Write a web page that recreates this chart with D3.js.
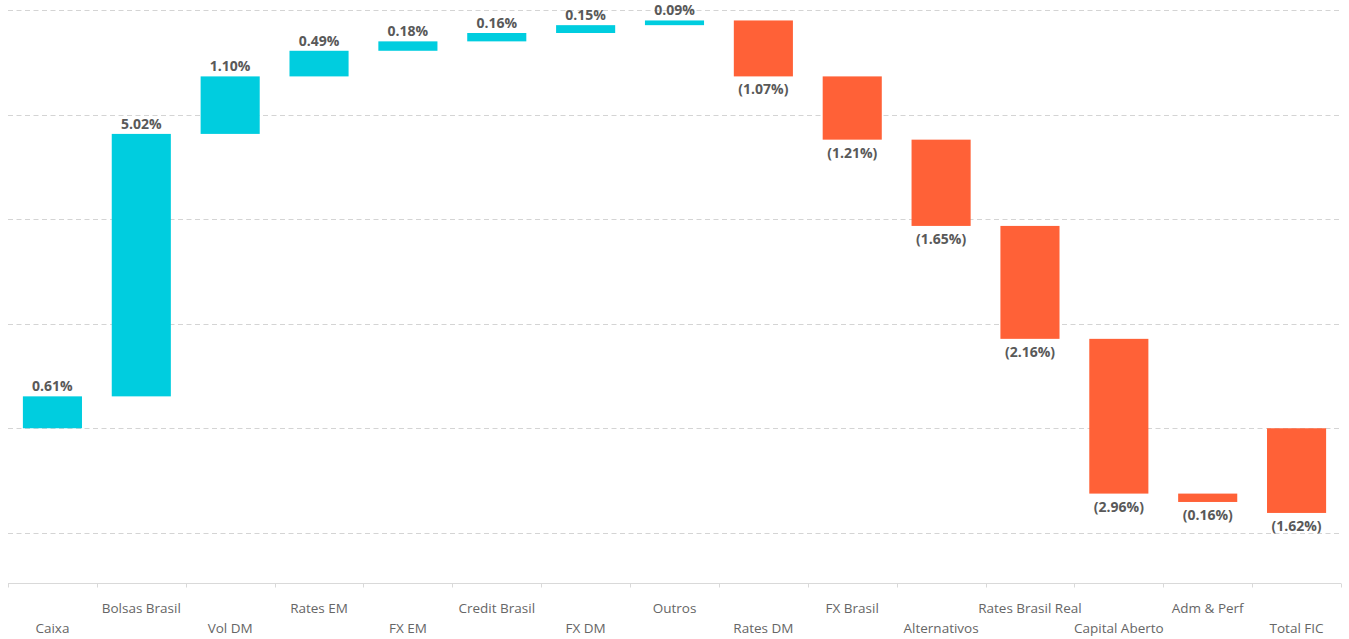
<!DOCTYPE html>
<html>
<head>
<meta charset="utf-8">
<script src="https://cdn.jsdelivr.net/npm/d3@7"></script>
<style>
  body { margin: 0; background: #fff; }
  text { font-family: "Open Sans", "Noto Sans", sans-serif; }
</style>
</head>
<body>
<div id="chart"></div>
<script>
(function () {

    // categories and their contributions (%)
    var categories = ["Caixa", "Bolsas Brasil", "Vol DM", "Rates EM", "FX EM", "Credit Brasil", "FX DM",
        "Outros", "Rates DM", "FX Brasil", "Alternativos", "Rates Brasil Real", "Capital Aberto", "Adm & Perf", "Total FIC"];
    var values = [0.61, 5.02, 1.10, 0.49, 0.18, 0.16, 0.15, 0.09, -1.07, -1.21, -1.65, -2.16, -2.96, -0.16, -1.62];
    var isTotal = [false, false, false, false, false, false, false, false, false, false, false, false, false, false, true];
    var gridTicks = [-2, 0, 2, 4, 6, 8];

    var width = 1349, height = 639;
    var margin = { top: 10, right: 8, bottom: 56, left: 8 };

    var svg = d3.select("#chart")
        .append("svg")
        .attr("width", width)
        .attr("height", height);

    // build start / end of each step
    var data = [];
    var running = 0;
    categories.forEach(function (c, i) {
        var start, end;
        if (isTotal[i]) { start = 0; end = values[i]; }
        else { start = running; end = running + values[i]; running = end; }
        data.push({ name: c, value: values[i], start: start, end: end, i: i });
    });

    var x = d3.scaleBand()
        .domain(categories)
        .range([margin.left, width - margin.right])
        .paddingInner(0.335)
        .paddingOuter(0.1675);

    var y = d3.scaleLinear()
        .domain([-2.96, 8])
        .range([height - margin.bottom, margin.top]);

    // dashed gridlines
    svg.append("g")
        .selectAll("line")
        .data(gridTicks)
        .enter()
        .append("line")
        .attr("x1", margin.left)
        .attr("x2", width - margin.right)
        .attr("y1", function (d) { return Math.round(y(d)) + 0.5; })
        .attr("y2", function (d) { return Math.round(y(d)) + 0.5; })
        .attr("stroke", "#d4d4d4")
        .attr("stroke-width", 1)
        .attr("stroke-dasharray", "5,3.5");

    // bottom axis line with ticks at band boundaries
    var axisY = Math.round(y(-2.96)) + 0.5;
    var bounds = d3.range(categories.length + 1).map(function (k) {
        return margin.left + (width - margin.left - margin.right) * k / categories.length;
    });
    var axis = svg.append("g");
    axis.append("line")
        .attr("x1", margin.left).attr("x2", width - margin.right)
        .attr("y1", axisY).attr("y2", axisY)
        .attr("stroke", "#d9d9d9");
    axis.selectAll(".tk")
        .data(bounds)
        .enter()
        .append("line")
        .attr("class", "tk")
        .attr("x1", function (d) { return Math.round(d) + 0.5; })
        .attr("x2", function (d) { return Math.round(d) + 0.5; })
        .attr("y1", axisY)
        .attr("y2", axisY + 4)
        .attr("stroke", "#d9d9d9");

    // category labels, staggered
    axis.selectAll(".cat")
        .data(data)
        .enter()
        .append("text")
        .attr("class", "cat")
        .attr("x", function (d) { return x(d.name) + x.bandwidth() / 2; })
        .attr("y", function (d) { return d.i % 2 === 0 ? axisY + 49 : axisY + 29; })
        .attr("text-anchor", "middle")
        .attr("font-size", "13.5px")
        .attr("fill", "#666")
        .text(function (d) { return d.name; });

    // bars
    svg.append("g")
        .selectAll("rect")
        .data(data)
        .enter()
        .append("rect")
        .attr("x", function (d) { return x(d.name); })
        .attr("y", function (d) { return y(Math.max(d.start, d.end)); })
        .attr("width", x.bandwidth())
        .attr("height", function (d) { return Math.abs(y(d.start) - y(d.end)); })
        .attr("fill", function (d) { return d.value >= 0 ? "#00CDDF" : "#FF6137"; });

    // value labels
    svg.append("g")
        .selectAll("text")
        .data(data)
        .enter()
        .append("text")
        .attr("x", function (d) { return x(d.name) + x.bandwidth() / 2; })
        .attr("y", function (d) {
            return d.value >= 0 ? y(d.end) - 5 : y(d.end) + 18;
        })
        .attr("text-anchor", "middle")
        .attr("font-size", "14px")
        .attr("font-weight", "bold")
        .attr("fill", "#595959")
        .text(function (d) {
            var s = Math.abs(d.value).toFixed(2) + "%";
            return d.value >= 0 ? s : "(" + s + ")";
        });

})();
</script>
</body>
</html>
